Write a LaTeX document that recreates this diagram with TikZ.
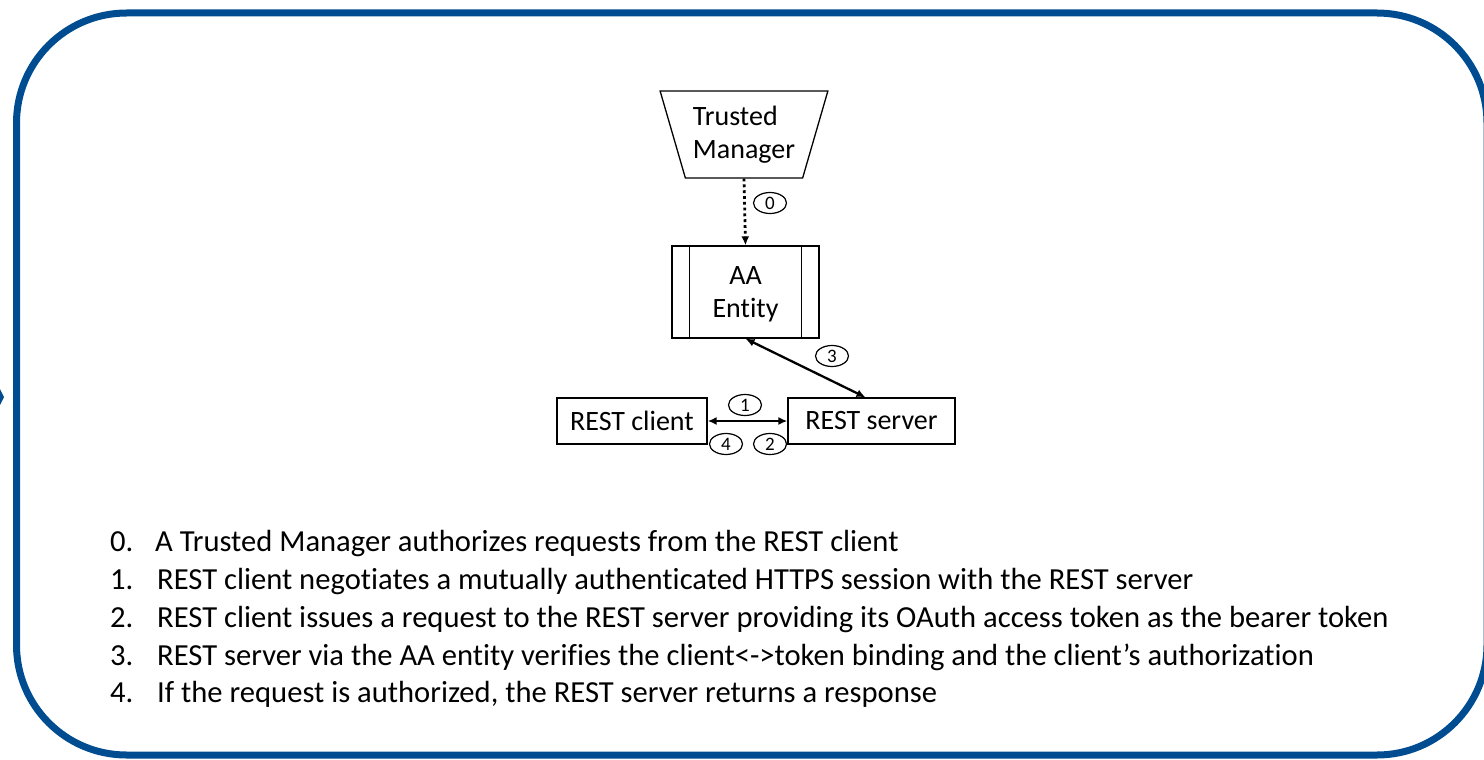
\documentclass[tikz,border=0pt]{standalone}
\usepackage{fontspec}
\setmainfont{Carlito}[Ligatures=NoCommon]
\usetikzlibrary{shapes.geometric,arrows.meta,calc}
\definecolor{frameblue}{RGB}{0,76,145}
\begin{document}
\begin{tikzpicture}[x=1pt,y=-1pt,
  box/.style={draw,line width=1.3pt,inner sep=0pt,align=center,
    font=\fontsize{28}{33}\selectfont},
  num/.style={draw,ellipse,line width=1.2pt,inner sep=0pt,
    minimum width=33pt,minimum height=21pt,font=\fontsize{19}{19}\selectfont},
  link/.style={line width=2.3pt,{Latex[length=9pt,width=8pt]}-{Latex[length=9pt,width=8pt]}},
  auth/.style={line width=2.8pt,dash pattern=on 2.8pt off 3pt,-{Latex[length=9pt,width=8pt]}},
  item/.style={anchor=base west,inner sep=0pt,font=\fontsize{30.6}{36}\selectfont}]
\useasboundingbox (0,0) rectangle (1484,760);

% outer frame
\draw[frameblue,line width=7pt,rounded corners=110pt] (16.5,13) rectangle (1487,755);
\fill[frameblue] (0,389) -- (4,397) -- (0,405) -- cycle;

% entities
\node[box,align=left,trapezium,trapezium stretches=true,shape border rotate=180,
  trapezium left angle=69,trapezium right angle=69,
  minimum width=168pt,minimum height=87pt] (tm) at (744,134.5) {Trusted\\Manager};
\node[box,minimum width=147pt,minimum height=92pt,text depth=-3pt] (aa) at (745.5,292) {AA\\Entity};
\draw[line width=1.3pt] ([xshift=18pt]aa.north west) -- ([xshift=18pt]aa.south west);
\draw[line width=1.3pt] ([xshift=-18pt]aa.north east) -- ([xshift=-18pt]aa.south east);
\node[box,minimum width=150pt,minimum height=46pt] (cl) at (632,421) {REST client};
\node[box,minimum width=167pt,minimum height=46pt] (sv) at (871.5,421) {REST server};

% connectors
\draw[auth] (tm.south) -- (aa.north);
\draw[link] (aa.south) -- ([xshift=-6pt]sv.north);
\draw[link] (cl.east) -- (sv.west);

% step labels
\node[num] (n0) at (770,203) {0};
\node[num] (n3) at (832,356) {3};
\node[num] (n1) at (745,405) {1};
\node[num] (n4) at (726,444) {4};
\node[num] (n2) at (770,444) {2};

% legend
\node[item] (k0) at (110,551) {0.};
\node[item] (t0) at (155,551) {A Trusted Manager authorizes requests from the REST client};
\node[item] (k1) at (110,589) {1.};
\node[item] (t1) at (157,589) {REST client negotiates a mutually authenticated HTTPS session with the REST server};
\node[item] (k2) at (110,627) {2.};
\node[item] (t2) at (157,627) {REST client issues a request to the REST server providing its OAuth access token as the bearer token};
\node[item] (k3) at (110,665) {3.};
\node[item] (t3) at (157,665) {REST server via the AA entity verifies the client<->token binding and the client’s authorization};
\node[item] (k4) at (110,702) {4.};
\node[item] (t4) at (157,702) {If the request is authorized, the REST server returns a response};
\end{tikzpicture}
\end{document}
